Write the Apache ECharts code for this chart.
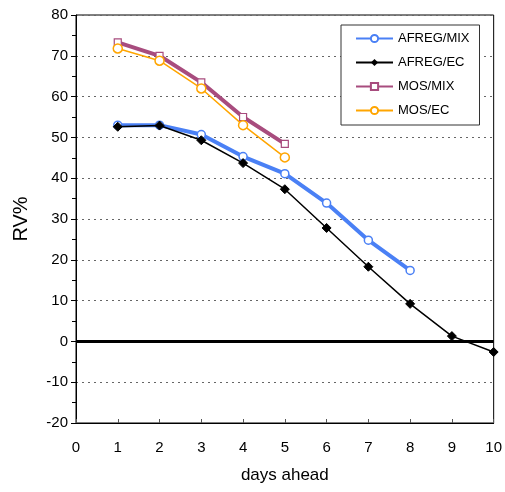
<!DOCTYPE html>
<html><head><meta charset="utf-8">
<script src="https://cdn.jsdelivr.net/npm/echarts@6/dist/echarts.min.js"></script>
<style>html,body{margin:0;padding:0;background:#fff}#c{width:505px;height:492px}</style>
</head><body><div id="c"></div>
<script>
var days = [0,1,2,3,4,5,6,7,8,9,10];
var afregMixX = [1,2,3,4,5,6,7,8];
var afregMix  = [53.0,53.0,50.7,45.3,41.1,33.9,24.8,17.4];
var afregEcX  = [1,2,3,4,5,6,7,8,9,10];
var afregEc   = [52.6,52.9,49.3,43.7,37.3,27.8,18.3,9.2,1.3,-2.6];
var mosMixX   = [1,2,3,4,5];
var mosMix    = [73.3,70.0,63.5,55.0,48.4];
var mosEcX    = [1,2,3,4,5];
var mosEc     = [71.8,68.8,62.0,53.0,45.1];
var seriesNames = ['AFREG/MIX','AFREG/EC','MOS/MIX','MOS/EC'];

function pairs(xs, ys){ return xs.map(function(x,i){return [x, ys[i]];}); }
var font = 'Liberation Sans, Arial, sans-serif';
var chart = echarts.init(document.getElementById('c'));
chart.setOption({
  animation:false,
  grid:{left:76,right:9,top:15,bottom:69,show:true,borderColor:'#000',borderWidth:1},
  legend:{
    orient:'vertical', left:341, top:25, width:140,
    padding:[7,10,8,14], itemGap:11, itemWidth:37, itemHeight:9,
    borderColor:'#333', borderWidth:1, backgroundColor:'#fff',
    textStyle:{fontFamily:font,fontSize:13,color:'#000',padding:[0,0,0,0]},
    data:seriesNames
  },
  xAxis:{
    type:'value', min:0, max:10, interval:1,
    name:'days ahead', nameLocation:'middle', nameGap:44,
    nameTextStyle:{fontFamily:font,fontSize:17,color:'#000'},
    axisLine:{onZero:false,lineStyle:{color:'#000',width:1}},
    axisTick:{inside:true,length:4,lineStyle:{color:'#555'}},
    axisLabel:{fontFamily:font,fontSize:15,color:'#000',margin:17},
    splitLine:{show:false}
  },
  yAxis:{
    type:'value', min:-20, max:80, interval:10,
    name:'RV%', nameLocation:'middle', nameGap:45,
    nameTextStyle:{fontFamily:font,fontSize:20,color:'#000'},
    axisLine:{onZero:false,lineStyle:{color:'#000',width:1}},
    axisTick:{inside:false,length:5,lineStyle:{color:'#000'}},
    minorTick:{show:true,splitNumber:2,length:4,lineStyle:{color:'#000'}},
    axisLabel:{fontFamily:font,fontSize:15,color:'#000',margin:8},
    splitLine:{show:true,lineStyle:{color:'#666',type:[2,4],width:1}}
  },
  series:[
    {name:'AFREG/MIX',type:'line',data:pairs(afregMixX,afregMix),z:3,
     color:'#4a80f5',lineStyle:{width:4,color:'#4a80f5'},
     symbol:'circle',symbolSize:8,itemStyle:{color:'#fff',borderColor:'#4a80f5',borderWidth:1.5},
     markLine:{silent:true,symbol:'none',label:{show:false},
       lineStyle:{color:'#000',width:3,type:'solid'},data:[{yAxis:0}]}},
    {name:'AFREG/EC',type:'line',data:pairs(afregEcX,afregEc),z:4,
     color:'#000',lineStyle:{width:1.5,color:'#000'},
     symbol:'diamond',symbolSize:9,itemStyle:{color:'#000',borderColor:'#000'}},
    {name:'MOS/MIX',type:'line',data:pairs(mosMixX,mosMix),z:3,
     color:'#a84c7e',lineStyle:{width:4,color:'#a84c7e'},
     symbol:'rect',symbolSize:7,itemStyle:{color:'#fff',borderColor:'#a84c7e',borderWidth:1.2}},
    {name:'MOS/EC',type:'line',data:pairs(mosEcX,mosEc),z:3,
     color:'#ffa500',lineStyle:{width:1.5,color:'#ffa500'},
     symbol:'circle',symbolSize:9,itemStyle:{color:'#fff',borderColor:'#ffa500',borderWidth:1.5}}
  ]
});
</script></body></html>
